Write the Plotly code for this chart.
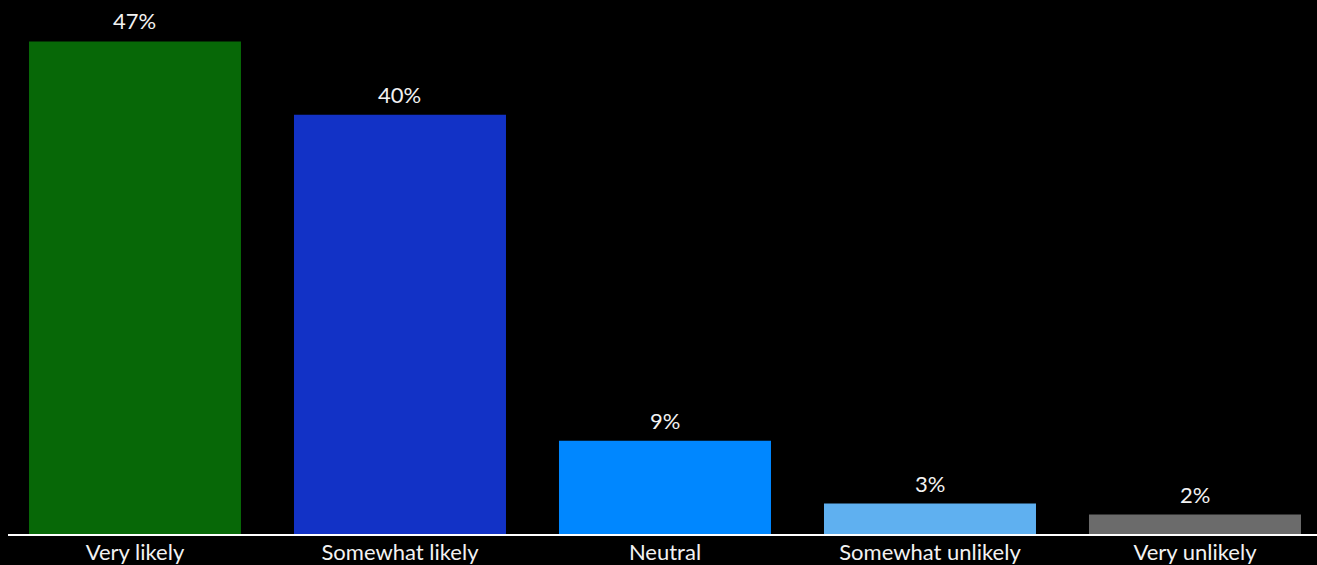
import plotly.graph_objects as go

categories = ["Very likely", "Somewhat likely", "Neutral", "Somewhat unlikely", "Very unlikely"]
values = [47, 40, 8.9, 2.9, 1.85]
labels = ["47%", "40%", "9%", "3%", "2%"]
colors = ["#076807", "#1232C6", "#0087FF", "#5FB0F0", "#6B6B6B"]

FONT = "Lato"
TXT = "#F2F2F2"

fig = go.Figure(go.Bar(
    x=categories, y=values,
    marker=dict(color=colors, line=dict(width=0)),
    hoverinfo="skip",
))

for c, v, t in zip(categories, values, labels):
    fig.add_annotation(x=c, y=v, text=t, showarrow=False, yanchor="bottom",
                       yshift=5, font=dict(family=FONT, size=22, color=TXT))

fig.update_layout(
    width=1317, height=565,
    paper_bgcolor="#000000", plot_bgcolor="#000000",
    margin=dict(l=8, r=0, t=10, b=31, pad=0),
    bargap=0.2, showlegend=False,
    font=dict(family=FONT, color=TXT, size=22),
)
fig.update_xaxes(range=[-0.4792, 4.4604], showline=True, linecolor="#FFFFFF", linewidth=2,
                 ticks="", showgrid=False, tickfont=dict(family=FONT, size=22, color=TXT),
                 ticklabelstandoff=-2)
fig.update_yaxes(range=[0, 50], visible=False, showgrid=False, zeroline=False)

fig.write_html("out.html", config={"displayModeBar": False},
               post_script="document.body.style.margin='0';document.body.style.background='#000';")
